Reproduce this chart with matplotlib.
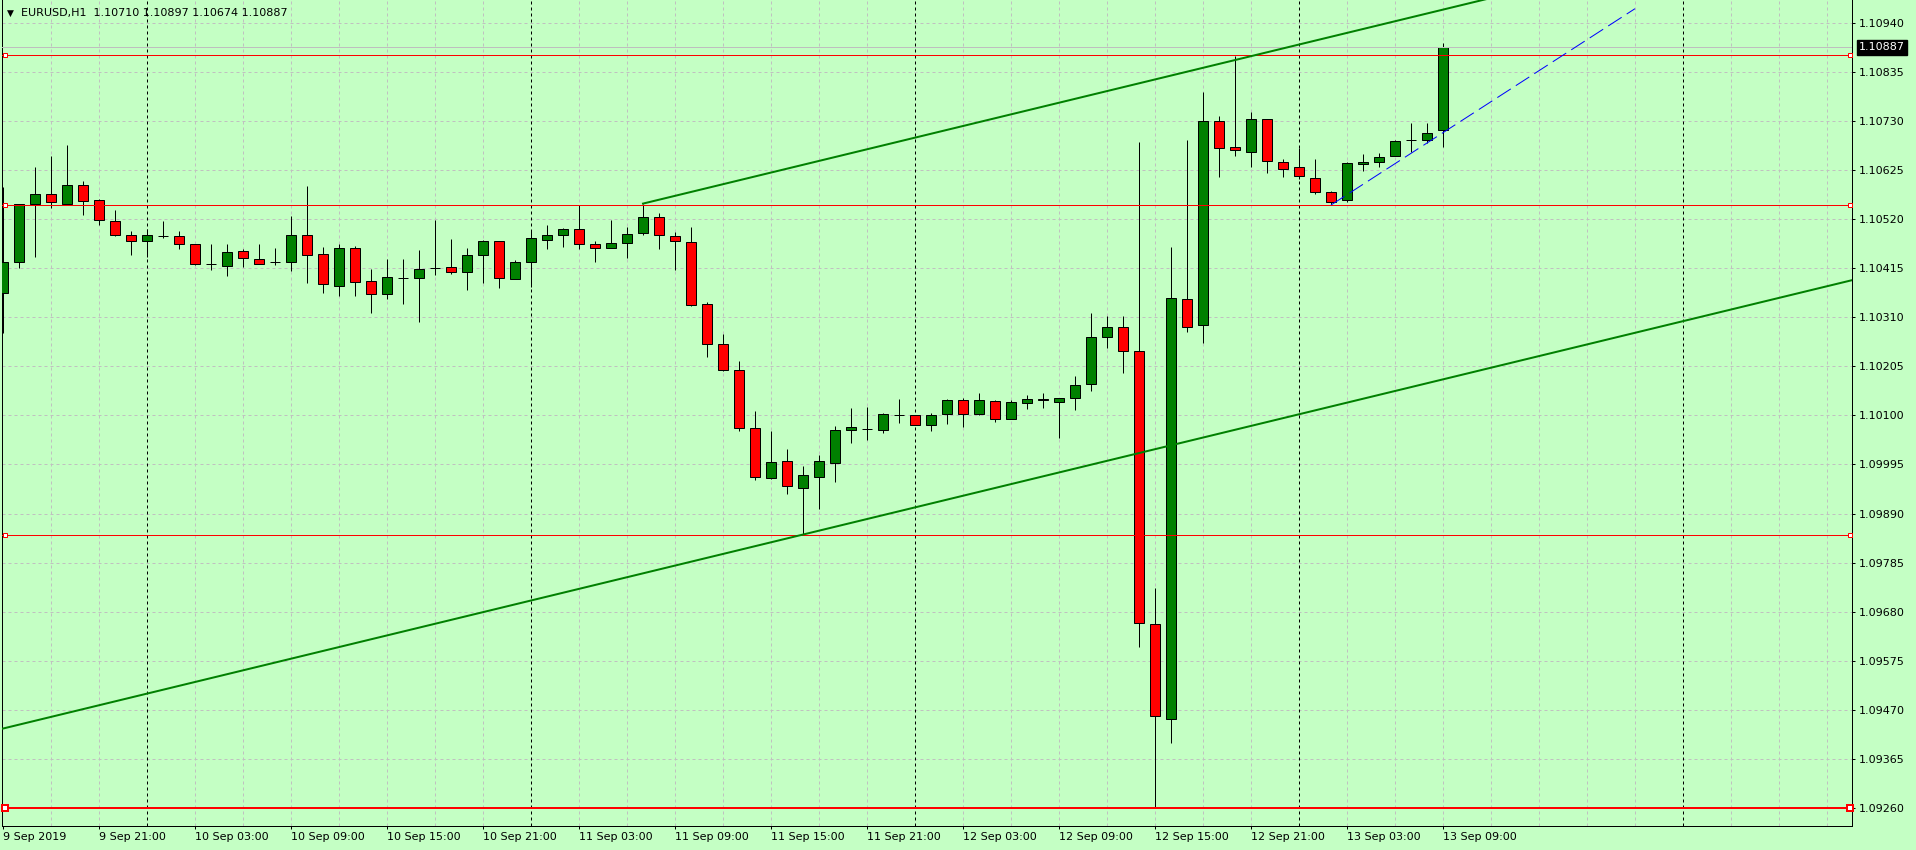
import matplotlib
matplotlib.use('Agg')
import matplotlib.pyplot as plt
import matplotlib.transforms as mtransforms
import numpy as np

plt.rcParams['lines.scale_dashes'] = False

# ---------------- data ----------------
title_symbol = "EURUSD,H1"
title_ohlc = ["1.10710", "1.10897", "1.10674", "1.10887"]

opens = [1.10361, 1.10428, 1.10553, 1.10573, 1.10553, 1.10592, 1.10560, 1.10515, 1.10485, 1.10474,
         1.10483, 1.10483, 1.10466, 1.10423, 1.10420, 1.10451, 1.10434, 1.10427, 1.10429, 1.10485,
         1.10446, 1.10377, 1.10457, 1.10387, 1.10360, 1.10394, 1.10393, 1.10416, 1.10417, 1.10406,
         1.10444, 1.10472, 1.10391, 1.10427, 1.10476, 1.10485, 1.10498, 1.10466, 1.10459, 1.10468,
         1.10491, 1.10524, 1.10483, 1.10470, 1.10339, 1.10252, 1.10196, 1.10072, 1.09966, 1.10003,
         1.09944, 1.09969, 1.09999, 1.10068, 1.10071, 1.10069, 1.10100, 1.10100, 1.10080, 1.10102,
         1.10133, 1.10102, 1.10131, 1.10093, 1.10126, 1.10136, 1.10128, 1.10138, 1.10166, 1.10267,
         1.10290, 1.10237, 1.09653, 1.09451, 1.10348, 1.10293, 1.10730, 1.10674, 1.10664, 1.10733,
         1.10643, 1.10631, 1.10607, 1.10577, 1.10560, 1.10637, 1.10641, 1.10654, 1.10688, 1.10688,
         1.10710]
highs = [1.10589, 1.10553, 1.10631, 1.10655, 1.10678, 1.10601, 1.10562, 1.10539, 1.10494, 1.10498,
         1.10515, 1.10494, 1.10467, 1.10466, 1.10466, 1.10455, 1.10466, 1.10459, 1.10526, 1.10590,
         1.10461, 1.10466, 1.10463, 1.10413, 1.10434, 1.10434, 1.10453, 1.10517, 1.10478, 1.10457,
         1.10476, 1.10473, 1.10433, 1.10496, 1.10507, 1.10500, 1.10549, 1.10472, 1.10517, 1.10504,
         1.10553, 1.10533, 1.10492, 1.10502, 1.10342, 1.10274, 1.10216, 1.10109, 1.10066, 1.10028,
         1.09992, 1.10015, 1.10078, 1.10115, 1.10118, 1.10106, 1.10134, 1.10101, 1.10104, 1.10136,
         1.10138, 1.10148, 1.10132, 1.10133, 1.10143, 1.10148, 1.10138, 1.10184, 1.10320, 1.10312,
         1.10312, 1.10684, 1.09730, 1.10461, 1.10689, 1.10792, 1.10740, 1.10869, 1.10750, 1.10735,
         1.10648, 1.10671, 1.10648, 1.10580, 1.10643, 1.10659, 1.10661, 1.10689, 1.10725, 1.10725,
         1.10897]
lows = [1.10277, 1.10416, 1.10439, 1.10543, 1.10551, 1.10529, 1.10507, 1.10484, 1.10443, 1.10439,
        1.10480, 1.10456, 1.10422, 1.10411, 1.10399, 1.10418, 1.10423, 1.10422, 1.10409, 1.10383,
        1.10361, 1.10356, 1.10356, 1.10319, 1.10349, 1.10339, 1.10300, 1.10401, 1.10402, 1.10368,
        1.10384, 1.10373, 1.10391, 1.10375, 1.10456, 1.10461, 1.10456, 1.10427, 1.10457, 1.10436,
        1.10485, 1.10456, 1.10412, 1.10335, 1.10225, 1.10194, 1.10067, 1.09962, 1.09964, 1.09932,
        1.09845, 1.09900, 1.09958, 1.10041, 1.10048, 1.10063, 1.10083, 1.10079, 1.10067, 1.10081,
        1.10075, 1.10101, 1.10086, 1.10092, 1.10114, 1.10116, 1.10052, 1.10112, 1.10153, 1.10244,
        1.10191, 1.09605, 1.09260, 1.09399, 1.10279, 1.10255, 1.10610, 1.10655, 1.10632, 1.10619,
        1.10610, 1.10605, 1.10574, 1.10550, 1.10556, 1.10623, 1.10632, 1.10654, 1.10664, 1.10682,
        1.10674]
closes = [1.10428, 1.10553, 1.10573, 1.10556, 1.10592, 1.10558, 1.10517, 1.10486, 1.10472, 1.10485,
          1.10483, 1.10466, 1.10424, 1.10423, 1.10449, 1.10436, 1.10424, 1.10427, 1.10485, 1.10444,
          1.10380, 1.10457, 1.10386, 1.10360, 1.10395, 1.10394, 1.10414, 1.10416, 1.10406, 1.10444,
          1.10472, 1.10393, 1.10429, 1.10479, 1.10485, 1.10498, 1.10466, 1.10459, 1.10468, 1.10489,
          1.10524, 1.10485, 1.10472, 1.10337, 1.10252, 1.10196, 1.10073, 1.09969, 1.10001, 1.09948,
          1.09972, 1.10003, 1.10068, 1.10076, 1.10071, 1.10102, 1.10100, 1.10080, 1.10100, 1.10133,
          1.10102, 1.10133, 1.10093, 1.10128, 1.10136, 1.10132, 1.10138, 1.10164, 1.10267, 1.10290,
          1.10237, 1.09655, 1.09456, 1.10350, 1.10290, 1.10730, 1.10673, 1.10667, 1.10733, 1.10645,
          1.10628, 1.10613, 1.10577, 1.10556, 1.10639, 1.10643, 1.10652, 1.10686, 1.10688, 1.10705,
          1.10887]

price_ticks = [1.10940, 1.10835, 1.10730, 1.10625, 1.10520, 1.10415, 1.10310, 1.10205, 1.10100,
               1.09995, 1.09890, 1.09785, 1.09680, 1.09575, 1.09470, 1.09365, 1.09260]
price_tick_labels = ["1.10940", "1.10835", "1.10730", "1.10625", "1.10520", "1.10415", "1.10310",
                     "1.10205", "1.10100", "1.09995", "1.09890", "1.09785", "1.09680", "1.09575",
                     "1.09470", "1.09365", "1.09260"]
time_tick_bars = [0, 6, 12, 18, 24, 30, 36, 42, 48, 54, 60, 66, 72, 78, 84, 90]
time_tick_labels = ["9 Sep 2019", "9 Sep 21:00", "10 Sep 03:00", "10 Sep 09:00", "10 Sep 15:00",
                    "10 Sep 21:00", "11 Sep 03:00", "11 Sep 09:00", "11 Sep 15:00", "11 Sep 21:00",
                    "12 Sep 03:00", "12 Sep 09:00", "12 Sep 15:00", "12 Sep 21:00", "13 Sep 03:00",
                    "13 Sep 09:00"]
day_separator_bars = [9, 33, 57, 81, 105]
red_levels = [1.10870, 1.10550, 1.09845, 1.09260]
red_widths = [1, 1, 1, 2]
bid_price = 1.10887
bid_label = "1.10887"
upper_line = [(40, 1.10553), (90, 1.10968)]
lower_line = [(50, 1.09845), (100, 1.10260)]
blue_line = [(83, 1.10550), (102, 1.10970)]

# ---------------- style / layout ----------------
BG = '#C4FFC4'
BULL = '#008000'
BEAR = '#FF0000'
GRID = '#C0C0C0'
PX = 0.72  # points per pixel at dpi 100

W, H = 1916, 850
fig = plt.figure(figsize=(W / 100, H / 100), dpi=100, facecolor=BG)

left_px, right_px, top_px, bottom_px = 2, 1852, 0, 826
ax = fig.add_axes([left_px / W, 1 - bottom_px / H, (right_px - left_px) / W, (bottom_px - top_px) / H])
ax.set_facecolor(BG)

# bar i centre at pixel 3 + 16 i ; price scale 1.10940 @ y=22.7, 1.09260 @ y=808
bar_px, x0_px = 16.0, 3.0
y_a, y_b = 22.7, 808.0
s = (price_ticks[0] - price_ticks[-1]) / (y_b - y_a)
ax.set_xlim((left_px - x0_px) / bar_px, (right_px - x0_px) / bar_px)
ax.set_ylim(price_ticks[0] - (bottom_px - y_a) * s, price_ticks[0] + (y_a - top_px) * s)

for sp in ax.spines.values():
    sp.set_color('black')
    sp.set_linewidth(1 * PX)
ax.spines['top'].set_visible(False)

x0, x1 = ax.get_xlim()
y0, y1 = ax.get_ylim()

# grid
for p in price_ticks:
    ax.plot([x0, x1], [p, p], color=GRID, lw=PX, dashes=(3 * PX, 3 * PX), zorder=1)
for i in range(3, int(x1) + 1, 3):
    if i in day_separator_bars:
        continue
    ax.plot([i, i], [y0, y1], color=GRID, lw=PX, dashes=(3 * PX, 3 * PX), zorder=1)
for i in day_separator_bars:
    ax.plot([i, i], [y0, y1], color='black', lw=PX, dashes=(3 * PX, 3 * PX), zorder=1.5)

# candles
n = len(opens)
idx = np.arange(n)
o = np.array(opens); c = np.array(closes); hi = np.array(highs); lo = np.array(lows)
ax.vlines(idx, lo, hi, color='black', lw=PX, zorder=3)
cols = [BULL if c[k] >= o[k] else BEAR for k in range(n)]
ax.bar(idx, c - o, bottom=o, width=0.62, color=cols, edgecolor='black', linewidth=PX, zorder=4)

# bid line
ax.plot([x0, x1], [bid_price, bid_price], color='#BEBEBE', lw=PX, zorder=5)

# red horizontal levels with end markers
lx = (5 - x0_px) / bar_px
rx = (1849.5 - x0_px) / bar_px
for lvl, lw in zip(red_levels, red_widths):
    ax.plot([x0, x1], [lvl, lvl], color='red', lw=lw * PX, zorder=6)
    ax.plot([lx, rx], [lvl, lvl], ls='none', marker='s', ms=(3.4 if lw == 1 else 3.8), mec='red',
            mfc='white', mew=lw * PX, zorder=7, clip_on=False)

# trend lines
(a0, p0), (a1, p1) = upper_line
slope = (p1 - p0) / (a1 - a0)
ax.plot([a0, x1], [p0, p0 + slope * (x1 - a0)], color=BULL, lw=2 * PX, zorder=6)
ax.axline(lower_line[0], lower_line[1], color=BULL, lw=2 * PX, zorder=6)
ax.plot([blue_line[0][0], blue_line[1][0]], [blue_line[0][1], blue_line[1][1]],
        color='#0000FF', lw=PX, dashes=(16 * PX, 6 * PX), zorder=6)

# axes ticks
ax.yaxis.tick_right()
ax.set_yticks(price_ticks)
ax.set_yticklabels(price_tick_labels, fontsize=8, family='DejaVu Sans')
ax.tick_params(axis='y', direction='out', length=3 * PX, width=PX, pad=4 * PX, colors='black')
ax.set_xticks(time_tick_bars)
ax.set_xticklabels(time_tick_labels, fontsize=8, family=['Liberation Sans Narrow', 'DejaVu Sans'],
                   ha='left')
ax.tick_params(axis='x', direction='out', length=3 * PX, width=PX, pad=3 * PX, colors='black')

# bid label box on price axis
tr = mtransforms.blended_transform_factory(ax.transAxes, ax.transData)
ax.text((1859 - left_px) / (right_px - left_px), bid_price, bid_label, transform=tr,
        fontsize=8, color='white', va='center', ha='left', family='DejaVu Sans',
        bbox=dict(boxstyle='square,pad=0.2', fc='black', ec='black'), zorder=10, clip_on=False)

# title
fig.text(7 / W, 1 - 13 / H, '\u25BC', fontsize=6.5, va='center', ha='left', color='black')
fig.text(21 / W, 1 - 13 / H, title_symbol + '  ' + ' '.join(title_ohlc), fontsize=8,
         va='center', ha='left', color='black', family='DejaVu Sans')

fig.savefig('out.png', dpi=100, facecolor=BG)
